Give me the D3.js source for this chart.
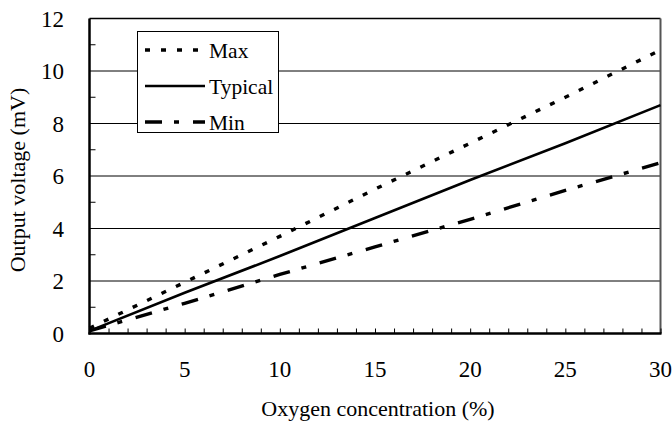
<!DOCTYPE html>
<html><head><meta charset="utf-8">
<script src="https://cdn.jsdelivr.net/npm/d3@7"></script>
<style>body{margin:0;background:#fff}svg{display:block}
text{font-family:"Liberation Serif","Times New Roman",Times,"DejaVu Serif",serif}</style>
</head><body>
<script>
const concentration = [0, 5, 10, 15, 20, 25, 30];
const maxValues = [0.2, 1.95, 3.7, 5.5, 7.25, 9.0, 10.8];
const typicalValues = [0.1, 1.55, 2.95, 4.4, 5.85, 7.25, 8.7];
const minValues = [0.1, 1.15, 2.25, 3.3, 4.35, 5.45, 6.5];
const seriesNames = ["Max", "Typical", "Min"];
const xTickLabels = [0, 5, 10, 15, 20, 25, 30];
const yTickLabels = [0, 2, 4, 6, 8, 10, 12];

const W = 672, H = 423;
const svg = d3.select("body").append("svg").attr("width", W).attr("height", H);

const x = d3.scaleLinear().domain([0, 30]).range([89.5, 660.5]);
const y = d3.scaleLinear().domain([0, 12]).range([333.5, 18.5]);

// gridlines
svg.append("g").selectAll("line").data([2,4,6,8,10]).join("line")
  .attr("x1", x(0)).attr("x2", x(30)).attr("y1", d => y(d)).attr("y2", d => y(d))
  .attr("stroke", "#000").attr("stroke-width", 1);

// frame top/right
svg.append("line").attr("x1", x(0)).attr("x2", x(30)).attr("y1", y(12)).attr("y2", y(12)).attr("stroke","#000").attr("stroke-width",1.5);
svg.append("line").attr("x1", x(30)).attr("x2", x(30)).attr("y1", y(12)).attr("y2", y(0)).attr("stroke","#555").attr("stroke-width",2);

// y minor ticks
svg.append("g").selectAll("line").data([1,3,5,7,9,11]).join("line")
  .attr("x1", x(0)).attr("x2", x(0) + 6).attr("y1", d => y(d)).attr("y2", d => y(d))
  .attr("stroke", "#000").attr("stroke-width", 1);

// x axis
const xAxis = d3.axisBottom(x).tickValues(d3.range(0, 31, 1)).tickSize(-5).tickFormat("");
const gx = svg.append("g").attr("transform", `translate(0,${y(0)})`).call(xAxis);
gx.select(".domain").remove();
gx.selectAll(".tick line").attr("stroke", "#000").attr("stroke-width", 1);
svg.append("line").attr("x1", x(0)-1).attr("x2", x(30)+1).attr("y1", y(0)).attr("y2", y(0)).attr("stroke","#000").attr("stroke-width",2.5);
svg.append("line").attr("x1", x(0)).attr("x2", x(0)).attr("y1", y(12)).attr("y2", y(0)+1).attr("stroke","#000").attr("stroke-width",2.5);

svg.append("g").selectAll("text").data(xTickLabels).join("text")
  .attr("x", d => x(d)).attr("y", 377).attr("text-anchor", "middle")
  .attr("font-size", 23).text(d => d);

svg.append("g").selectAll("text").data(yTickLabels).join("text")
  .attr("x", 64).attr("y", d => y(d) + 8).attr("text-anchor", "end")
  .attr("font-size", 23).text(d => d);

svg.append("text").attr("x", 378).attr("y", 416).attr("text-anchor", "middle")
  .attr("font-size", 22).text("Oxygen concentration (%)");
svg.append("text").attr("transform", "translate(25,180) rotate(-90)").attr("text-anchor", "middle")
  .attr("font-size", 22).text("Output voltage (mV)");

const styles = [
  {vals: maxValues, dash: "5,11", w: 3.4},
  {vals: typicalValues, dash: null, w: 2.6},
  {vals: minValues, dash: "17,12,5,14", w: 3.4}
];
const line = d3.line().x(d => x(d[0])).y(d => y(d[1]));
styles.forEach(s => {
  svg.append("path").datum(concentration.map((c, i) => [c, s.vals[i]]))
    .attr("d", line).attr("fill", "none").attr("stroke", "#000")
    .attr("stroke-width", s.w).attr("stroke-dasharray", s.dash);
});

// legend
const lg = svg.append("g");
lg.append("rect").attr("x", 137.5).attr("y", 31.5).attr("width", 141).attr("height", 101)
  .attr("fill", "#fff").attr("stroke", "#000").attr("stroke-width", 1);
const rowsY = [50, 86, 122];
seriesNames.forEach((n, i) => {
  lg.append("line").attr("x1", 145).attr("x2", 205).attr("y1", rowsY[i]).attr("y2", rowsY[i])
    .attr("stroke", "#000").attr("stroke-width", styles[i].w).attr("stroke-dasharray", styles[i].dash);
  lg.append("text").attr("x", 209).attr("y", rowsY[i] + 7.5)
    .attr("font-size", 21.5).text(n);
});
</script>
</body></html>
